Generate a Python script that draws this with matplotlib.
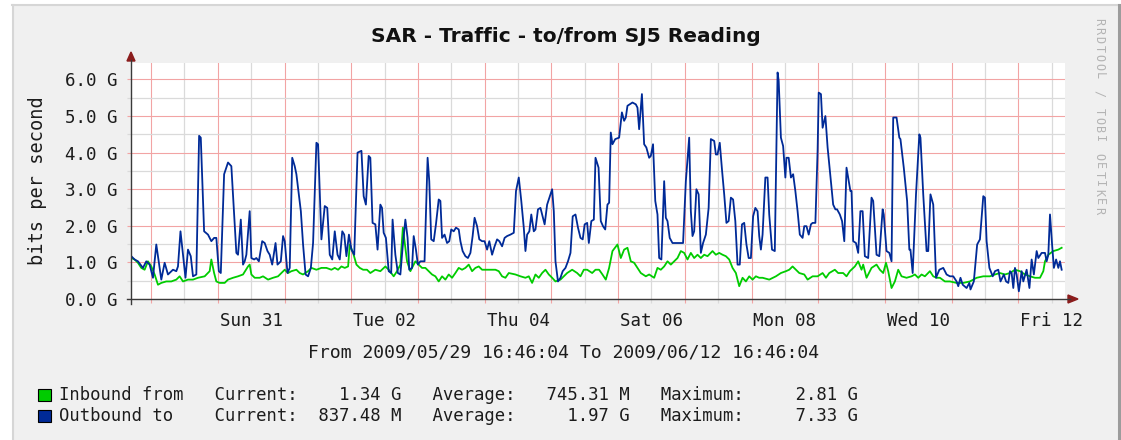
import matplotlib
matplotlib.use("Agg")
import matplotlib.pyplot as plt
from matplotlib.patches import Rectangle, Polygon
from matplotlib.lines import Line2D
from matplotlib.transforms import blended_transform_factory
from datetime import datetime, timedelta

W, H = 1121, 440

start = datetime(2009, 5, 29, 16, 46, 4)
end = datetime(2009, 6, 12, 16, 46, 4)
span_h = (end - start).total_seconds() / 3600

title = "SAR - Traffic - to/from SJ5 Reading"
ylabel = "bits per second"

# outbound traffic (blue), hours since start / Gbit/s
out_hours = [0.1, 1.3, 2.5, 4.3, 5.5, 6.7, 7.9, 9.1, 10.3, 10.9, 12.1, 13.3, 15.1, 16.3, 16.9,
             17.8, 18.7, 19.6, 20.5, 21.5, 22.3, 23.5, 24.5, 25.1, 26.3, 27.7, 28.9, 29.9, 30.7,
             31.6, 32.3, 33.5, 34.9, 36.1, 37.1, 37.9, 38.5, 39.5, 40.3, 40.9, 41.5, 42.7, 43.3,
             44.3, 45.1, 46.0, 47.2, 48.1, 49.1, 49.9, 50.8, 52.0, 52.7, 53.9, 54.7, 55.3, 56.3,
             57.1, 58.0, 58.9, 59.5, 61.1, 61.9, 62.8, 63.7, 64.7, 65.5, 66.7, 67.3, 68.5, 69.7,
             70.6, 71.5, 72.4, 73.3, 74.3, 75.1, 76.0, 76.7, 77.5, 78.4, 79.3, 80.3, 81.5, 82.9,
             83.7, 84.5, 85.5, 86.1, 86.9, 87.9, 88.7, 89.7, 90.3, 90.9, 91.7, 92.7, 93.6, 94.1,
             95.1, 96.0, 96.9, 97.7, 98.7, 99.5, 100.1, 101.1, 101.7, 102.5, 103.2, 104.1, 105.6,
             106.7, 107.3, 108.0, 108.9, 109.7, 110.7, 111.3, 111.9, 112.8, 113.7, 114.5, 115.2,
             116.1, 116.9, 117.9, 118.5, 119.3, 120.3, 121.2, 122.1, 122.9, 123.6, 124.5, 125.3,
             126.3, 127.2, 128.1, 128.9, 129.9, 130.8, 131.7, 132.5, 133.5, 134.4, 135.3, 136.5,
             137.7, 138.5, 139.5, 140.4, 141.3, 141.9, 142.5, 143.3, 144.0, 144.9, 145.5, 146.4,
             147.3, 147.9, 148.8, 149.7, 150.5, 151.5, 152.1, 152.7, 153.6, 154.5, 155.3, 156.3,
             157.2, 158.1, 158.9, 159.9, 160.8, 161.7, 162.5, 163.2, 164.1, 164.7, 165.6, 166.5,
             167.1, 168.2, 169.0, 169.8, 170.6, 171.4, 172.0, 172.6, 173.2, 174.2, 175.6, 176.6,
             177.4, 178.0, 178.6, 180.4, 181.6, 182.2, 182.8, 183.8, 184.6, 185.4, 186.4, 187.0,
             187.8, 188.6, 189.4, 190.0, 190.8, 191.8, 192.4, 193.0, 193.8, 194.8, 197.2, 198.6,
             199.6, 200.8, 201.4, 202.0, 202.6, 203.4, 204.2, 205.0, 205.8, 206.8, 207.8, 208.6,
             209.8, 210.4, 211.0, 211.8, 212.6, 213.4, 214.2, 215.0, 215.8, 216.6, 217.4, 218.2,
             219.0, 219.8, 220.6, 221.4, 222.2, 223.0, 223.8, 224.6, 225.4, 226.0, 226.6, 227.2,
             228.2, 229.0, 229.6, 230.6, 231.6, 232.6, 233.0, 233.8, 234.6, 235.4, 235.8, 236.6,
             237.4, 238.2, 239.0, 239.8, 240.6, 241.6, 242.2, 243.0, 243.8, 244.6, 245.2, 246.2,
             247.0, 247.4, 248.2, 248.8, 249.8, 250.6, 251.8, 252.6, 253.4, 254.0, 255.0, 255.8,
             256.6, 256.9, 257.4, 258.0, 258.8, 259.2, 259.8, 260.8, 261.6, 262.4, 263.2, 264.0,
             265.2, 266.4, 267.0, 268.2, 269.2, 270.4, 270.8, 271.8, 272.8, 273.6, 274.2, 275.4,
             276.4, 276.8, 278.0, 279.2, 280.0, 280.4, 281.2, 282.4, 283.6, 284.0, 285.0, 286.2,
             286.8, 287.6, 288.6, 289.6, 290.8, 292.2, 293.4, 294.6, 295.8, 297.0, 297.6, 298.4,
             299.2, 300.6, 301.6, 302.0, 303.2, 304.4, 305.4, 306.6, 307.2, 307.8, 308.8, 310.0,
             310.8, 312.0, 312.8, 314.0, 314.8, 315.6, 316.2, 316.8, 317.4, 318.0, 318.6, 319.4,
             320.4, 321.0, 322.2, 323.2, 324.0, 324.8, 325.8, 326.4, 327.6, 328.8, 329.4, 330.0,
             330.6, 331.4, 332.0, 332.8, 333.6, 334.2, 334.8]
out_gbps = [1.17, 1.08, 1.03, 0.85, 1.03, 0.94, 0.58, 1.49, 0.85, 0.53, 0.99, 0.67, 0.80, 0.76, 0.89,
            1.85, 1.21, 0.58, 1.35, 1.17, 0.62, 0.67, 4.46, 4.41, 1.85, 1.76, 1.58, 1.67, 1.67,
            0.76, 0.71, 3.41, 3.73, 3.63, 2.31, 1.26, 1.21, 2.17, 0.94, 1.03, 1.21, 2.40, 1.12,
            1.08, 1.12, 1.03, 1.58, 1.53, 1.31, 1.21, 0.94, 1.53, 0.94, 1.03, 1.72, 1.58, 0.71,
            0.85, 3.86, 3.63, 3.41, 2.40, 1.49, 0.67, 0.62, 0.85, 1.53, 4.27, 4.23, 1.63, 2.54,
            2.49, 1.21, 1.08, 1.85, 1.21, 1.08, 1.85, 1.76, 1.17, 1.76, 1.35, 1.21, 4.00, 4.05,
            2.81, 2.58, 3.91, 3.86, 2.08, 2.04, 1.35, 2.58, 2.49, 1.81, 1.67, 0.76, 0.71, 2.17,
            1.21, 0.71, 0.67, 1.40, 2.17, 1.67, 0.80, 0.85, 1.72, 1.35, 0.94, 1.03, 1.03,
            3.86, 3.22, 1.63, 1.58, 2.04, 2.72, 2.68, 1.67, 1.76, 1.53, 1.58, 1.90,
            1.85, 1.95, 1.90, 1.58, 1.31, 1.17, 1.12, 1.26, 1.72, 2.22, 1.99, 1.63,
            1.58, 1.58, 1.35, 1.58, 1.21, 1.44, 1.63, 1.58, 1.44, 1.67, 1.72, 1.76,
            1.81, 2.95, 3.32, 2.68, 1.95, 1.31, 1.76, 1.85, 2.31, 1.85, 1.90, 2.45,
            2.49, 2.31, 2.04, 2.58, 2.77, 3.00, 2.40, 1.03, 0.48, 0.58, 0.76, 0.85,
            1.03, 1.26, 2.26, 2.31, 1.95, 1.67, 1.63, 2.04, 2.08, 1.53, 2.13, 2.17,
            3.86, 3.59, 2.13, 1.99, 1.90, 2.58, 2.63, 4.55, 4.23, 4.37, 4.41, 5.10,
            4.87, 4.96, 5.28, 5.37, 5.32, 5.23, 4.64, 5.60, 4.23, 4.14, 3.86, 3.91,
            4.23, 2.68, 2.31, 1.12, 1.08, 3.22, 2.22, 2.13, 1.67, 1.53, 1.53, 1.53,
            3.22, 4.41, 2.40, 1.72, 1.85, 3.00, 2.86, 1.26, 1.53, 1.76, 2.49, 4.37,
            4.32, 3.95, 3.95, 4.27, 3.54, 2.86, 2.08, 2.13, 2.77, 2.72, 2.13, 0.94,
            0.94, 2.04, 2.08, 1.49, 1.12, 1.12, 2.26, 2.49, 2.40, 1.72, 1.35, 1.76,
            3.32, 3.32, 2.31, 1.35, 1.31, 6.19, 5.96, 4.41, 4.18, 3.32, 3.86, 3.86,
            3.32, 3.41, 2.95, 2.40, 1.76, 1.67, 1.99, 1.99, 1.76, 2.04, 2.08, 2.08,
            4.05, 5.64, 5.60, 4.68, 5.00, 4.14, 3.22, 2.58, 2.45, 2.45, 2.31, 2.13,
            1.58, 2.31, 3.59, 3.32, 2.95, 2.95, 1.58, 1.53, 1.26, 2.40, 2.40, 1.17,
            1.12, 2.77, 2.68, 1.21, 1.17, 2.45, 2.31, 1.31, 1.26, 1.03, 4.96, 4.96,
            4.41, 4.37, 3.59, 2.68, 1.35, 1.35, 0.71, 2.86, 4.50, 4.41, 2.86, 1.31,
            1.31, 2.86, 2.58, 0.58, 0.80, 0.85, 0.67, 0.62, 0.62, 0.48, 0.35, 0.58,
            0.39, 0.30, 0.44, 0.26, 0.48, 1.49, 1.63, 2.81, 2.77, 1.58, 0.85, 0.62,
            0.76, 0.80, 0.48, 0.67, 0.48, 0.44, 0.76, 0.71, 0.30, 0.85, 0.67, 0.21,
            0.76, 0.48, 0.80, 0.30, 1.08, 0.67, 1.31, 1.12, 1.26, 1.26, 1.03, 1.21,
            2.31, 1.44, 0.85, 1.08, 0.85, 1.03, 0.80]

# inbound traffic (green), hours since start / Gbit/s
in_hours = [0.1, 1.3, 2.5, 3.7, 4.9, 6.1, 7.3, 8.5, 9.7, 10.9, 12.7, 14.5, 16.3, 17.5, 18.7,
            20.5, 22.3, 24.1, 26.5, 28.3, 28.9, 29.9, 30.7, 31.9, 33.7, 34.9, 36.7, 38.5, 40.3,
            42.1, 42.7, 43.3, 44.5, 46.3, 47.5, 49.3, 51.1, 52.9, 54.1, 55.3, 56.5, 57.7, 59.5,
            60.7, 61.9, 63.7, 64.9, 66.7, 68.5, 70.3, 72.1, 73.3, 74.5, 75.7, 76.9, 78.1, 78.7,
            79.9, 81.1, 82.3, 83.5, 84.9, 86.1, 87.9, 89.7, 91.5, 92.7, 94.5, 95.7, 96.9, 97.8,
            99.3, 100.5, 101.1, 102.3, 103.5, 104.7, 105.9, 107.1, 108.3, 109.5, 110.7, 111.9,
            113.1, 114.3, 115.5, 116.7, 117.9, 119.1, 120.3, 121.5, 122.7, 123.9, 125.1, 126.3,
            128.7, 131.1, 132.3, 133.5, 134.7, 135.9, 138.3, 140.1, 141.9, 143.1, 144.3, 145.5,
            146.7, 147.9, 149.1, 150.3, 151.5, 152.7, 154.5, 155.7, 156.9, 158.7, 160.5, 161.7,
            162.9, 164.1, 165.9, 167.1, 168.4, 169.6, 170.8, 172.0, 173.2, 175.0, 176.2, 177.4,
            178.6, 179.8, 181.0, 182.2, 183.4, 185.2, 186.4, 188.2, 189.4, 190.6, 191.8, 193.0,
            194.2, 195.4, 196.6, 197.8, 199.0, 200.2, 201.4, 202.6, 203.8, 205.0, 206.2, 207.4,
            209.2, 210.4, 211.6, 212.8, 214.0, 215.2, 216.4, 217.6, 218.8, 220.0, 221.2, 222.4,
            223.6, 224.8, 226.0, 227.2, 229.6, 232.0, 233.8, 235.6, 236.8, 238.0, 239.2, 240.4,
            242.2, 243.4, 245.2, 247.0, 248.8, 250.0, 251.2, 253.2, 254.4, 256.2, 257.4, 258.6,
            260.4, 261.6, 262.8, 263.4, 264.6, 266.4, 268.2, 269.4, 270.6, 271.6, 272.4, 273.6,
            274.8, 276.0, 277.2, 279.0, 280.8, 282.0, 283.2, 284.4, 285.6, 287.4, 288.6, 289.8,
            291.0, 292.8, 294.6, 297.0, 299.4, 301.8, 304.2, 306.6, 309.0, 310.8, 312.6, 314.4,
            316.2, 318.0, 319.8, 321.6, 323.4, 325.2, 327.0, 328.2, 328.8, 330.0, 331.8, 333.6,
            334.8]
in_gbps = [1.12, 1.08, 0.99, 0.85, 0.80, 1.03, 0.89, 0.67, 0.39, 0.44, 0.48, 0.48, 0.53, 0.62, 0.48,
           0.53, 0.53, 0.58, 0.62, 0.76, 1.08, 0.71, 0.48, 0.44, 0.44, 0.53, 0.58, 0.62, 0.67,
           0.89, 0.94, 0.67, 0.58, 0.58, 0.62, 0.53, 0.58, 0.62, 0.71, 0.80, 0.71, 0.76, 0.80,
           0.71, 0.67, 0.76, 0.85, 0.80, 0.85, 0.85, 0.80, 0.85, 0.80, 0.89, 0.85, 0.89, 1.49,
           1.26, 0.94, 0.85, 0.80, 0.80, 0.71, 0.80, 0.76, 0.89, 0.80, 0.62, 0.76, 0.94, 1.95,
           1.03, 0.76, 0.85, 1.03, 0.94, 0.85, 0.85, 0.76, 0.67, 0.62, 0.48, 0.62,
           0.53, 0.67, 0.58, 0.71, 0.85, 0.80, 0.85, 0.94, 0.76, 0.85, 0.89, 0.80,
           0.80, 0.80, 0.76, 0.62, 0.58, 0.71, 0.67, 0.62, 0.58, 0.62, 0.44, 0.67,
           0.58, 0.71, 0.80, 0.67, 0.58, 0.48, 0.53, 0.62, 0.71, 0.80, 0.71, 0.62,
           0.80, 0.80, 0.71, 0.80, 0.80, 0.67, 0.53, 0.85, 1.31, 1.49, 1.12, 1.35,
           1.40, 1.03, 0.99, 0.85, 0.71, 0.62, 0.67, 0.58, 0.85, 0.80, 0.89, 1.03,
           0.94, 1.03, 1.12, 1.31, 1.26, 1.08, 1.26, 1.12, 1.21, 1.12, 1.21, 1.17,
           1.31, 1.21, 1.26, 1.21, 1.17, 1.08, 0.85, 0.71, 0.35, 0.58, 0.48, 0.62,
           0.53, 0.62, 0.58, 0.58, 0.53, 0.62, 0.71, 0.76, 0.80, 0.89, 0.80, 0.71,
           0.67, 0.53, 0.62, 0.62, 0.71, 0.58, 0.71, 0.80, 0.71, 0.71, 0.62, 0.76,
           0.89, 1.03, 0.80, 0.94, 0.58, 0.85, 0.94, 0.80, 0.71, 0.99, 0.76, 0.30,
           0.48, 0.80, 0.62, 0.58, 0.62, 0.67, 0.58, 0.67, 0.62, 0.76, 0.62, 0.58,
           0.58, 0.48, 0.48, 0.44, 0.44, 0.48, 0.58, 0.62, 0.62, 0.67, 0.71, 0.67,
           0.71, 0.80, 0.76, 0.67, 0.62, 0.58, 0.58, 0.76, 1.03, 1.21, 1.31, 1.35,
           1.40]

y_ticks = [0, 1, 2, 3, 4, 5, 6]
y_max = 6.45

series_names = ["Inbound from", "Outbound to"]
series_colors = ["#00cc00", "#002a97"]
current = ["1.34 G", "837.48 M"]
average = ["745.31 M", "1.97 G"]
maximum = ["2.81 G", "7.33 G"]

watermark = "RRDTOOL / TOBI OETIKER"

MONO = "DejaVu Sans Mono"
FS = 12.6
FS_LEG = 12.4
TXT = "#1c1c1c"
MAJOR = "#f2a4a4"
MINOR = "#dadada"


def fx(x):
    return x / W


def fy(y):
    return 1 - y / H


def hours(t):
    return (t - start).total_seconds() / 3600


plt.rcParams["font.family"] = [MONO, "DejaVu Sans"]

fig = plt.figure(figsize=(W / 100, H / 100), dpi=100, facecolor="white")

# rrdtool style canvas with a bevelled frame
fig.patches.append(Rectangle((fx(12), fy(440)), fx(1120) - fx(12), fy(5) - fy(440),
                             transform=fig.transFigure, facecolor="#f0f0f0", edgecolor="none", zorder=-5))
fig.add_artist(Line2D([fx(12.5), fx(12.5)], [fy(5), fy(440)], color="#d6d6d6", lw=1.5, zorder=-4))
fig.add_artist(Line2D([fx(12), fx(1120)], [fy(5.5), fy(5.5)], color="#d6d6d6", lw=1.5, zorder=-4))
fig.add_artist(Line2D([fx(1118.5), fx(1118.5)], [fy(5), fy(440)], color="#9c9c9c", lw=2.2, zorder=-4))

ax = fig.add_axes([fx(131), fy(299), fx(1065) - fx(131), fy(63) - fy(299)])
ax.set_facecolor("white")
ax.set_xlim(0, span_h)
ax.set_ylim(0, y_max)
for sp in ax.spines.values():
    sp.set_visible(False)

midnights = [hours(datetime(2009, 5, 30) + timedelta(days=k)) for k in range(14)]
noons = [m + 12 for m in midnights]
ax.set_xticks(midnights)
ax.set_xticks(noons, minor=True)
ax.set_yticks(y_ticks)
ax.set_yticks([v + 0.5 for v in y_ticks[:-1]] + [6.5], minor=True)
ax.set_ylim(0, y_max)
ax.grid(which="major", color=MAJOR, lw=0.8)
ax.grid(which="minor", color=MINOR, lw=0.9)
ax.set_axisbelow(True)
ax.tick_params(which="major", direction="out", length=3, width=0.8, color=MAJOR)
ax.tick_params(which="minor", direction="out", length=3, width=0.9, color=MINOR)
ax.tick_params(axis="x", which="both", labelbottom=False)
ax.tick_params(axis="y", which="major", pad=6.5, labelsize=FS, labelcolor=TXT)
ax.set_yticklabels([f"{v:.1f} G" for v in y_ticks])

ax.plot(in_hours, in_gbps, color=series_colors[0], lw=1.3, zorder=3)
ax.plot(out_hours, out_gbps, color=series_colors[1], lw=1.3, zorder=4)

# day labels every second day, centred on noon
trans = blended_transform_factory(ax.transData, fig.transFigure)
for k in range(1, 14, 2):
    day = datetime(2009, 5, 30) + timedelta(days=k)
    ax.text(hours(day) + 12, fy(321), day.strftime("%a %d"), transform=trans,
            ha="center", va="center", fontsize=FS, color=TXT, clip_on=False)

# axes with arrow heads
AX = "#3a3a3a"
ARROW = "#8b1c1c"
fig.add_artist(Line2D([fx(131), fx(131)], [fy(304), fy(60)], color=AX, lw=1))
fig.add_artist(Line2D([fx(127), fx(1070)], [fy(299), fy(299)], color=AX, lw=1))
fig.add_artist(Polygon([[fx(131), fy(52)], [fx(127), fy(61)], [fx(135), fy(61)]],
                       closed=True, transform=fig.transFigure, color=ARROW))
fig.add_artist(Polygon([[fx(1078), fy(299)], [fx(1068), fy(295)], [fx(1068), fy(303)]],
                       closed=True, transform=fig.transFigure, color=ARROW))

fig.text(fx(566), fy(36), title, ha="center", va="center", fontsize=14.5,
         fontweight="bold", family="DejaVu Sans", color="#111111")
fig.text(fx(38), fy(181), ylabel, rotation=90, ha="center", va="center",
         fontsize=13.4, color=TXT)
fig.text(fx(564), fy(352), "From " + start.strftime("%Y/%m/%d %H:%M:%S") + " To "
         + end.strftime("%Y/%m/%d %H:%M:%S"), ha="center", va="center", fontsize=13.1, color=TXT)

# legend rows, laid out on the monospace grid like rrdtool's GPRINT
for i, (name, col) in enumerate(zip(series_names, series_colors)):
    y = 395 + i * 21
    fig.patches.append(Rectangle((fx(38), fy(y + 6)), fx(13), fy(0) - fy(12),
                                 transform=fig.transFigure, facecolor=col,
                                 edgecolor="#000000", lw=0.8))
    row = (f"{name:<15}Current:{current[i]:>10}   Average:{average[i]:>11}"
           f"   Maximum:{maximum[i]:>11}")
    fig.text(fx(59), fy(y), row, ha="left", va="center", fontsize=FS_LEG, color=TXT)

# vertical watermark, letter spaced
for i, ch in enumerate(watermark):
    fig.text(fx(1099), fy(22 + i * 9.0), ch, rotation=270, ha="center", va="center",
             fontsize=8.5, color="#b4b4b4")

fig.savefig("out.png", dpi=100, facecolor=fig.get_facecolor())
